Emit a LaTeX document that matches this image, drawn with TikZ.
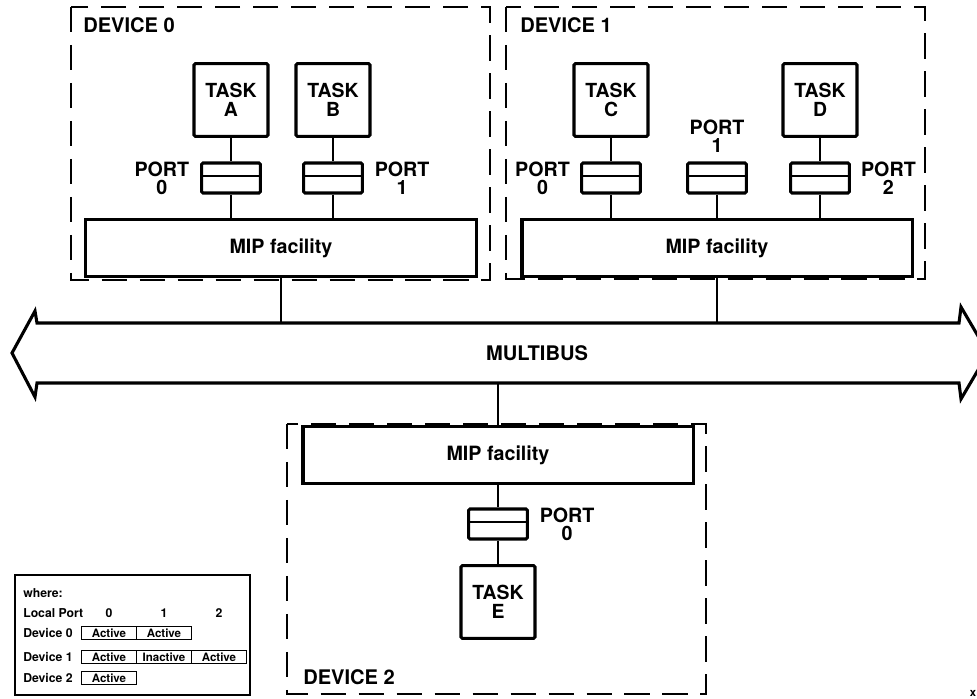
\documentclass[tikz,border=0pt]{standalone}
\usepackage{fontspec}
\setmainfont{TeX Gyre Heros}
\usetikzlibrary{positioning}

\tikzset{
  task/.style={draw, line width=2.2pt, rounded corners=1pt, minimum width=1.85cm, minimum height=1.82cm,
    align=center, inner sep=0pt, font=\fontsize{13.8}{13.5}\selectfont\bfseries},
  portbox/.style={draw, line width=2.2pt, rounded corners=1pt, minimum width=1.47cm, minimum height=0.75cm,
    inner sep=0pt, path picture={\draw[line width=1.2pt]
      ([yshift=1.4pt]path picture bounding box.west) -- ([yshift=1.4pt]path picture bounding box.east);}},
  portlbl/.style={align=center, inner sep=0pt, font=\fontsize{14}{13}\selectfont\bfseries},
  mip/.style={draw, fill=white, line width=2.2pt, minimum width=9.75cm, minimum height=1.44cm,
    inner sep=0pt, font=\fontsize{14}{14}\selectfont\bfseries},
  devbox/.style={line width=1pt, dash pattern=on 18pt off 9pt},
  devlbl/.style={inner sep=0pt, font=\fontsize{14.3}{14}\selectfont\bfseries},
  link/.style={line width=1pt},
  bus/.style={line width=2.2pt, line join=miter},
  legtxt/.style={anchor=west, inner sep=0pt, font=\fontsize{8.7}{10}\selectfont\bfseries},
  cell/.style={draw, line width=0.6pt, minimum width=1.375cm, minimum height=0.325cm, inner sep=0pt,
    font=\fontsize{8.2}{9}\selectfont\bfseries}
}

\begin{document}
\begin{tikzpicture}[x=0.025cm, y=-0.025cm]
  \path[use as bounding box, clip] (0,0) rectangle (977,698);

  % device frames
  \draw[devbox] (71,7) rectangle (490,280);
  \draw[devbox] (506,7) rectangle (925,279);
  \draw[devbox] (287,424) rectangle (706,694);
  \node[devlbl, anchor=west] (dev0) at (83,25) {DEVICE 0};
  \node[devlbl, anchor=west] (dev1) at (520,25) {DEVICE 1};
  \node[devlbl, anchor=west] (dev2) at (303,677) {DEVICE 2};

  % MIP facilities
  \node[mip] (mip0) at (281,248) {MIP facility};
  \node[mip] (mip1) at (717,248) {MIP facility};
  \node[mip] (mip2) at (498,455) {MIP facility};

  % device 0
  \node[task] (taskA) at (231,100) {TASK\\A};
  \node[task] (taskB) at (333,100) {TASK\\B};
  \node[portbox] (portA) at (231,178) {};
  \node[portbox] (portB) at (333,178) {};
  \node[portlbl, left=7.5pt of portA] (lblA) {PORT\\0};
  \node[portlbl, right=7.5pt of portB] (lblB) {PORT\\1};
  \draw[link] (taskA) -- (portA) -- (portA |- mip0.north);
  \draw[link] (taskB) -- (portB) -- (portB |- mip0.north);

  % device 1
  \node[task] (taskC) at (611,100) {TASK\\C};
  \node[task] (taskD) at (820,100) {TASK\\D};
  \node[portbox] (portC) at (611,178) {};
  \node[portbox] (portF) at (717,178) {};
  \node[portbox] (portD) at (820,178) {};
  \node[portlbl, left=7pt of portC] (lblC) {PORT\\0};
  \node[portlbl, above=6pt of portF] (lblF) {PORT\\1};
  \node[portlbl, right=7pt of portD] (lblD) {PORT\\2};
  \draw[link] (taskC) -- (portC) -- (portC |- mip1.north);
  \draw[link] (portF) -- (portF |- mip1.north);
  \draw[link] (taskD) -- (portD) -- (portD |- mip1.north);

  % device 2
  \node[portbox] (portE) at (498,524) {};
  \node[task] (taskE) at (498,602) {TASK\\E};
  \node[portlbl, right=7.5pt of portE] (lblE) {PORT\\0};
  \draw[link] (mip2) -- (portE) -- (taskE);

  % multibus
  \draw[bus] (12,353) -- (35,311) -- (37,323) -- (959,323) -- (961,307) -- (988,353)
    -- (961,399) -- (959,383) -- (37,383) -- (35,397) -- cycle;
  \node[devlbl] (multibus) at (537,353) {MULTIBUS};
  \coordinate (bustop) at (0,323);
  \coordinate (busbot) at (0,383);
  \draw[link] (mip0) -- (mip0 |- bustop);
  \draw[link] (mip1) -- (mip1 |- bustop);
  \draw[link] (mip2) -- (mip2 |- busbot);

  % legend
  \node[draw, line width=1.4pt, minimum width=5.875cm, minimum height=3cm] (legend) at (132.5,635) {};
  \node[legtxt] (where) at (23,593) {where:};
  \node[legtxt] (local) at (23,613) {Local Port};
  \foreach \n/\x in {0/109,1/164,2/219}
    \node[legtxt, anchor=center] (col\n) at (\x,613) {\n};
  \foreach \d/\y in {0/633,1/657,2/678}
    \node[legtxt] (row\d) at (23,\y) {Device \d};
  \foreach \x/\y/\s [count=\i] in {109/633/Active, 164/633/Active, 109/657/Active,
      164/657/Inactive, 219/657/Active, 109/678/Active}
    \node[cell] (cell\i) at (\x,\y) {\s};

  \node[inner sep=0pt, font=\fontsize{8}{9}\selectfont\bfseries] (figx) at (973,693) {x};
\end{tikzpicture}
\end{document}
